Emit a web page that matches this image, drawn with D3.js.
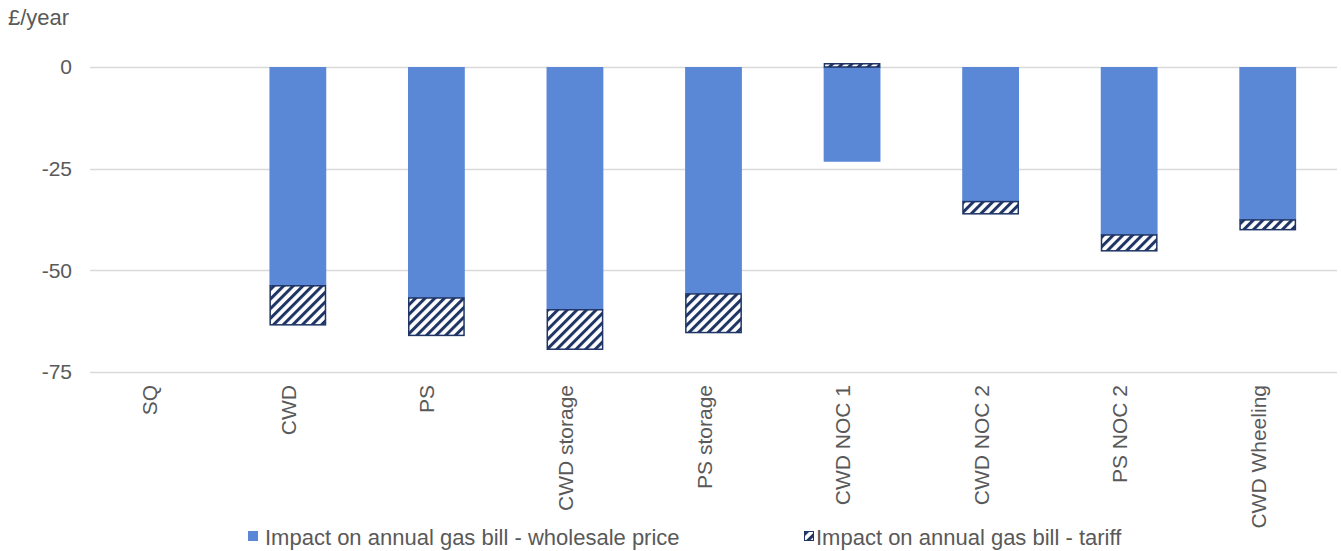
<!DOCTYPE html>
<html>
<head>
<meta charset="utf-8">
<script src="https://cdn.jsdelivr.net/npm/d3@7"></script>
<style>
  body { margin: 0; background: #fff; }
  text { font-family: "Liberation Sans", Arial, sans-serif; fill: #595959; }
</style>
</head>
<body>
<svg id="chart" width="1341" height="551"></svg>
<script>
// Annual gas bill impact per scenario (£/year)
const categories = ["SQ", "CWD", "PS", "CWD storage", "PS storage", "CWD NOC 1", "CWD NOC 2", "PS NOC 2", "CWD Wheeling"];
const wholesale = [0, -53.8, -56.8, -59.7, -55.8, -23.3, -33.1, -41.3, -37.6];
const tariff = [0, -9.6, -9.2, -9.7, -9.5, 0.8, -3.0, -3.9, -2.4];
const yTicks = [0, -25, -50, -75];
const seriesNames = ["Impact on annual gas bill - wholesale price", "Impact on annual gas bill - tariff"];
const unitLabel = "£/year";

const plot = { left: 90, right: 1337, top: 67, bottom: 372 };
const blue = "#5b87d7";
const navy = "#1f3566";
const fs = 21;

const svg = d3.select("#chart");

// Hatch pattern for the tariff series
const defs = svg.append("defs");
const pat = defs.append("pattern")
  .attr("id", "hatch")
  .attr("patternUnits", "userSpaceOnUse")
  .attr("width", 6.8).attr("height", 6.8)
  .attr("patternTransform", "rotate(45)");
pat.append("rect").attr("width", 6.8).attr("height", 6.8).attr("fill", "#fff");
pat.append("rect").attr("x", 0).attr("y", 0).attr("width", 3).attr("height", 6.8).attr("fill", navy);

const x = d3.scaleBand().domain(categories).range([plot.left, plot.right]).paddingInner(0.59).paddingOuter(0.295);
const y = d3.scaleLinear().domain([-75, 0]).range([plot.bottom, plot.top]);

// Gridlines
svg.append("g").selectAll("line").data(yTicks).join("line")
  .attr("x1", plot.left).attr("x2", plot.right)
  .attr("y1", d => Math.round(y(d)) + 0.5).attr("y2", d => Math.round(y(d)) + 0.5)
  .attr("stroke", "#d9d9d9").attr("stroke-width", 1.5);

// Y axis labels (plain hyphen for negatives)
const yAxis = d3.axisLeft(y).tickValues(yTicks).tickSize(0).tickPadding(0).tickFormat(d => String(d));
const yg = svg.append("g").attr("transform", `translate(72,0)`).call(yAxis);
yg.select(".domain").remove();
yg.selectAll("text").attr("font-size", fs).attr("font-family", null).attr("fill", "#595959");

svg.append("text").attr("x", 8).attr("y", 25).attr("font-size", 22).text(unitLabel);

// Bars: wholesale from zero, tariff stacked on the same side
const rows = categories.map((c, i) => {
  const w = wholesale[i], t = tariff[i];
  const t0 = t < 0 ? Math.min(w, 0) : Math.max(w, 0);
  return { c, w, t0, t1: t0 + t };
});

svg.append("g").selectAll("rect").data(rows).join("rect")
  .attr("x", d => x(d.c)).attr("width", x.bandwidth())
  .attr("y", d => y(Math.max(0, d.w))).attr("height", d => Math.abs(y(d.w) - y(0)))
  .attr("fill", blue);

svg.append("g").selectAll("rect").data(rows.filter(d => d.t1 !== d.t0)).join("rect")
  .attr("x", d => x(d.c) + 0.75).attr("width", x.bandwidth() - 1.5)
  .attr("y", d => y(Math.max(d.t0, d.t1))).attr("height", d => Math.abs(y(d.t1) - y(d.t0)))
  .attr("fill", "url(#hatch)").attr("stroke", navy).attr("stroke-width", 1.5);

// Category labels, rotated
const xAxis = d3.axisBottom(x).tickSize(0).tickPadding(0);
const xg = svg.append("g").attr("transform", `translate(0,${plot.bottom})`).call(xAxis);
xg.select(".domain").remove();
xg.selectAll("text")
  .attr("font-size", fs).attr("font-family", null).attr("fill", "#595959")
  .attr("text-anchor", "end").attr("dy", null)
  .attr("transform", "translate(-2,13) rotate(-90)");

// Legend
const lg = svg.append("g");
lg.append("rect").attr("x", 248).attr("y", 531).attr("width", 10).attr("height", 10).attr("fill", blue);
lg.append("text").attr("x", 265).attr("y", 545).attr("font-size", 22).text(seriesNames[0]);
lg.append("rect").attr("x", 804.5).attr("y", 531.5).attr("width", 9).attr("height", 9)
  .attr("fill", "url(#hatch)").attr("stroke", navy).attr("stroke-width", 1);
lg.append("text").attr("x", 816).attr("y", 545).attr("font-size", 22).text(seriesNames[1]);
</script>
</body>
</html>
